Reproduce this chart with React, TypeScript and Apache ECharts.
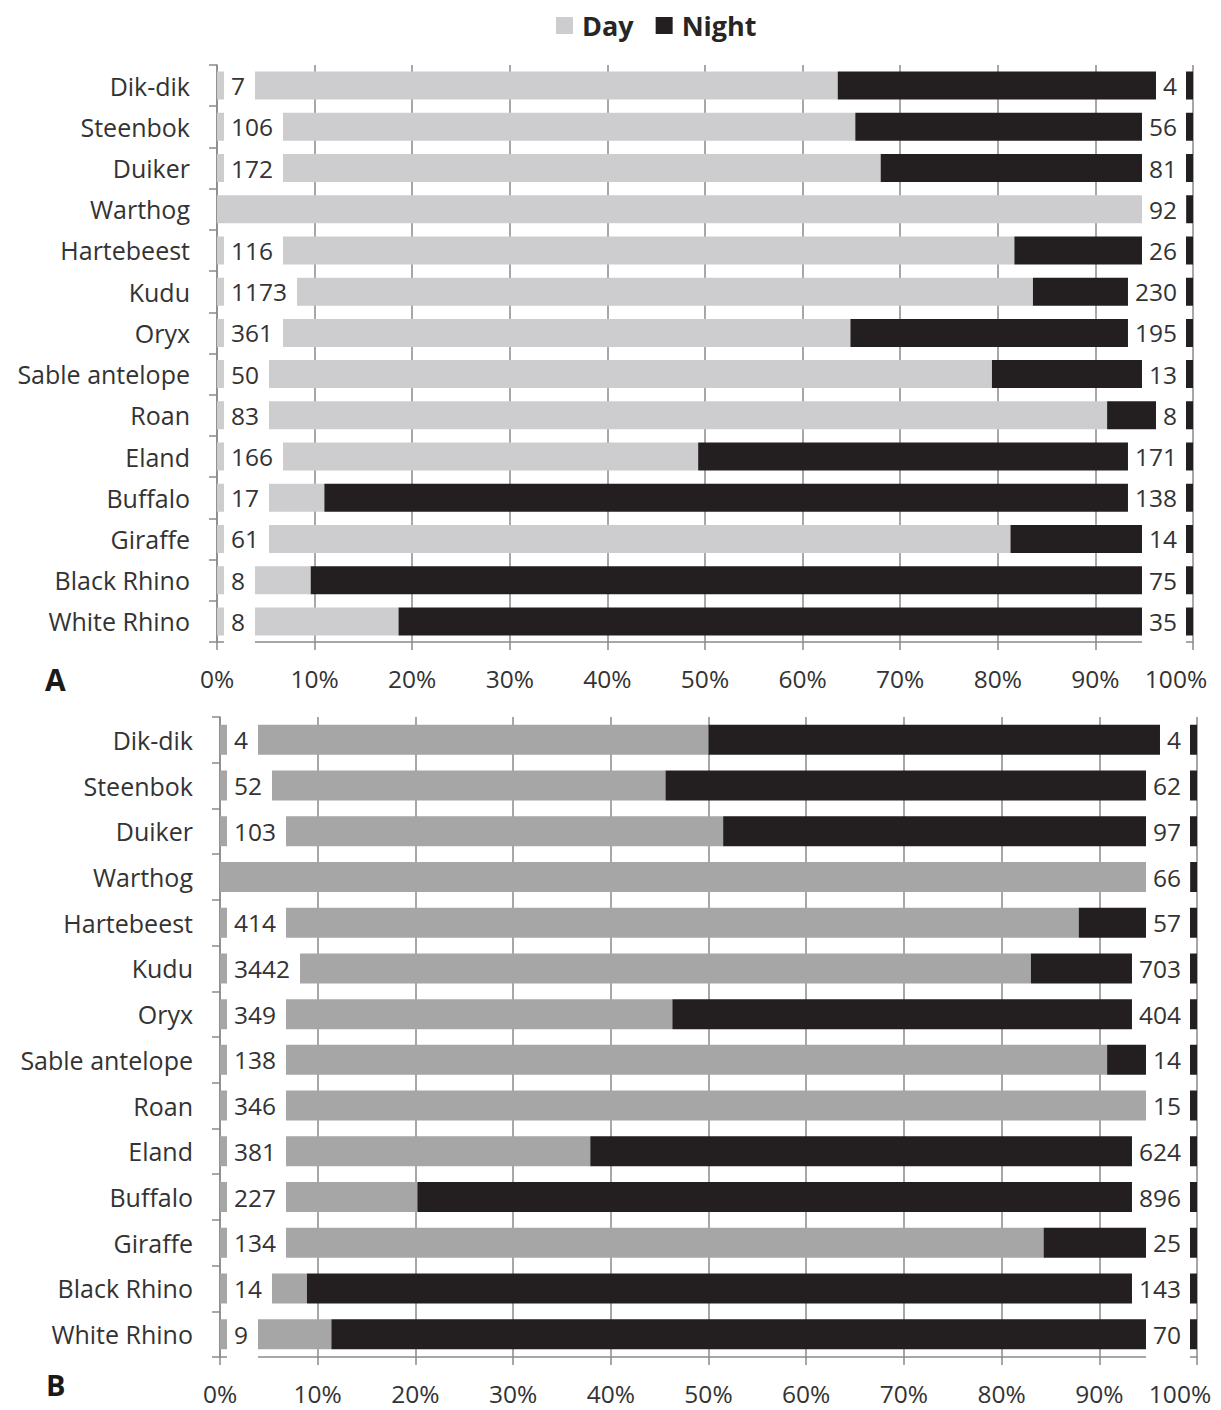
import React, { useEffect, useRef } from "react";
import * as echarts from "echarts";

const categories = [
  "Dik-dik", "Steenbok", "Duiker", "Warthog", "Hartebeest", "Kudu", "Oryx",
  "Sable antelope", "Roan", "Eland", "Buffalo", "Giraffe", "Black Rhino", "White Rhino",
];

// Panel A
const dayLabelsA = [7, 106, 172, null, 116, 1173, 361, 50, 83, 166, 17, 61, 8, 8];
const nightLabelsA = [4, 56, 81, 92, 26, 230, 195, 13, 8, 171, 138, 14, 75, 35];
const dayPctA = [63.6, 65.4, 68.0, 99.3, 81.7, 83.6, 64.9, 79.4, 91.2, 49.3, 11.0, 81.3, 9.6, 18.6];

// Panel B
const dayLabelsB = [4, 52, 103, null, 414, 3442, 349, 138, 346, 381, 227, 134, 14, 9];
const nightLabelsB = [4, 62, 97, 66, 57, 703, 404, 14, 15, 624, 896, 25, 143, 70];
const dayPctB = [50.0, 45.6, 51.5, 99.3, 87.9, 83.0, 46.3, 90.8, 95.8, 37.9, 20.2, 84.3, 8.9, 11.4];

const xTicks = [0, 10, 20, 30, 40, 50, 60, 70, 80, 90, 100];

const FONT = "Open Sans";
const TEXT = "#333333";
const GRID = "#8a8a8a";
const NIGHT = "#231f20";
const DAY_A = "#cdcdcf";
const DAY_B = "#a6a6a6";

function xAxisFor(gridIndex: number) {
  return {
    type: "value",
    gridIndex,
    min: xTicks[0],
    max: xTicks[xTicks.length - 1],
    interval: xTicks[1] - xTicks[0],
    axisLine: { show: true, lineStyle: { color: GRID, width: 1.5 } },
    axisTick: { show: true, length: 8, lineStyle: { color: GRID, width: 1.5 } },
    splitLine: { show: true, lineStyle: { color: GRID, width: 1.5 } },
    axisLabel: {
      margin: 24,
      fontSize: 24.5,
      color: TEXT,
      fontFamily: FONT,
      formatter: (v: number) => (v === 100 ? "{e|100%}" : v + "%"),
      rich: { e: { padding: [0, 34, 0, 0], fontSize: 24.5, color: TEXT, fontFamily: FONT } },
    },
  };
}

function yAxisFor(gridIndex: number) {
  return {
    type: "category",
    gridIndex,
    data: categories,
    inverse: true,
    axisLine: { show: true, lineStyle: { color: GRID, width: 1.5 } },
    axisTick: { show: true, length: 8, interval: 0, lineStyle: { color: GRID, width: 1.5 } },
    splitLine: { show: false },
    axisLabel: { margin: 27, fontSize: 25, color: TEXT, fontFamily: FONT, interval: 0 },
  };
}

function seriesFor(
  idx: number,
  dayPct: number[],
  dayLabels: (number | null)[],
  nightLabels: (number | null)[],
  dayColor: string,
  barWidth: number,
  boxH: number
) {
  const labelBase = {
    fontSize: 24.5,
    fontFamily: FONT,
    color: TEXT,
    backgroundColor: "#ffffff",
    lineHeight: boxH,
    distance: 7,
  };
  return [
    {
      name: "Day",
      type: "bar",
      stack: "s" + idx,
      xAxisIndex: idx,
      yAxisIndex: idx,
      barWidth,
      itemStyle: { color: dayColor },
      label: {
        ...labelBase,
        position: "insideLeft",
        padding: [0, 10, 0, 7],
        formatter: (p: any) => String(dayLabels[p.dataIndex]),
      },
      data: dayPct.map((v, i) => ({ value: v, label: { show: dayLabels[i] != null } })),
    },
    {
      name: "Night",
      type: "bar",
      stack: "s" + idx,
      xAxisIndex: idx,
      yAxisIndex: idx,
      barWidth,
      itemStyle: { color: NIGHT },
      label: {
        ...labelBase,
        position: "insideRight",
        padding: [0, 9, 0, 7],
        formatter: (p: any) => String(nightLabels[p.dataIndex]),
      },
      data: dayPct.map((v, i) => ({
        value: +(100 - v).toFixed(1),
        label: { show: nightLabels[i] != null },
      })),
    },
  ];
}

export default function App() {
  const ref = useRef<HTMLDivElement>(null);
  useEffect(() => {
    if (!ref.current) return;
    const chart = echarts.init(ref.current, undefined, { renderer: "svg" });
    chart.setOption({
      animation: false,
      backgroundColor: "#ffffff",
      legend: {
        data: ["Day", "Night"],
        left: 551,
        top: 7,
        itemWidth: 17,
        itemHeight: 17,
        itemGap: 22,
        icon: "rect",
        selectedMode: false,
        textStyle: { fontSize: 27, fontWeight: "bold", color: "#262626", fontFamily: FONT, padding: [0, 0, 0, 4] },
      },
      grid: [
        { left: 217, right: 28, top: 65, height: 577, containLabel: false },
        { left: 220, right: 24, top: 717, height: 640, containLabel: false },
      ],
      xAxis: [xAxisFor(0), xAxisFor(1)],
      yAxis: [yAxisFor(0), yAxisFor(1)],
      series: [
        ...seriesFor(0, dayPctA, dayLabelsA, nightLabelsA, DAY_A, 28, 44),
        ...seriesFor(1, dayPctB, dayLabelsB, nightLabelsB, DAY_B, 30, 48),
      ],
      graphic: [
        { type: "text", left: 45, top: 664, style: { text: "A", fontSize: 30, fontWeight: "bold", fill: "#1a1a1a", fontFamily: FONT } },
        { type: "text", left: 46, top: 1370, style: { text: "B", fontSize: 29, fontWeight: "bold", fill: "#1a1a1a", fontFamily: FONT } },
      ],
    });
    return () => chart.dispose();
  }, []);
  return (
    <div
      ref={ref}
      style={{ position: "absolute", left: 0, top: 0, width: 1221, height: 1410 }}
    />
  );
}
